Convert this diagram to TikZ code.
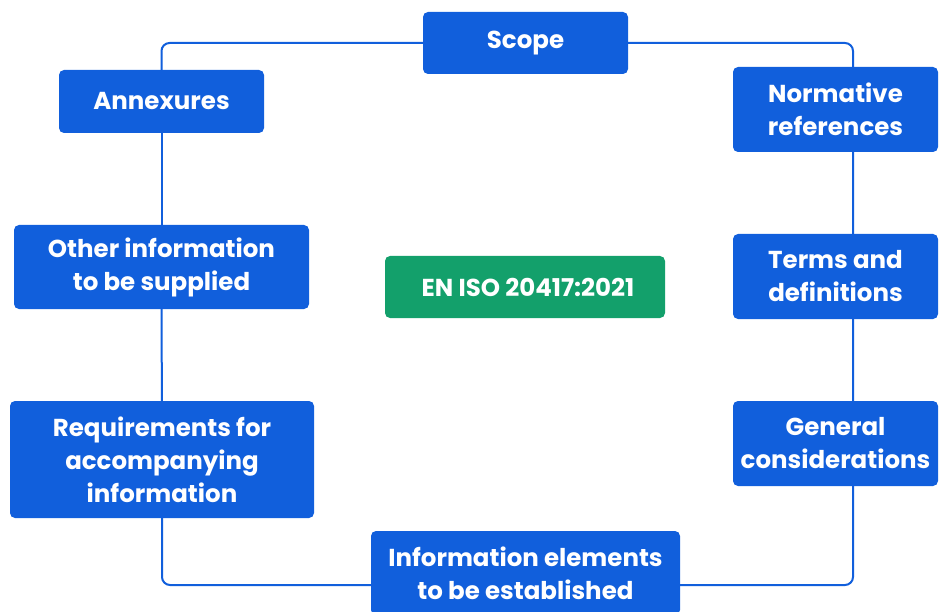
\documentclass[tikz,border=0pt]{standalone}
\usepackage{fontspec}
\setmainfont{Poppins}
\usetikzlibrary{backgrounds}
\definecolor{boxblue}{HTML}{115FDC}
\definecolor{boxgreen}{HTML}{13A06B}

\begin{document}
\begin{tikzpicture}[x=1pt,y=-1pt,line cap=round,line join=round,
  box/.style={fill=boxblue,rounded corners=5pt,text=white,align=center,inner sep=0pt,
    font=\fontsize{24.5}{33}\selectfont\bfseries},
  loopline/.style={draw=boxblue,line width=2pt,rounded corners=8pt}]
 	\useasboundingbox (0,0) rectangle (947,612);
 	\node[box,minimum width=205pt,minimum height=62pt] (scope) at (525.5,43) {Scope};
 	\node[box,minimum width=205pt,minimum height=63pt] (annex) at (161.5,101.5) {Annexures};
 	\node[box,minimum width=295pt,minimum height=84pt] (other) at (161.5,267) {Other information\\to be supplied};
 	\node[box,minimum width=304pt,minimum height=117pt] (req) at (162,459.5) {Requirements for\\accompanying\\information};
 	\node[box,minimum width=309pt,minimum height=84pt] (info) at (525.5,573) {Information elements\\to be established};
 	\node[box,minimum width=205pt,minimum height=85pt] (norm) at (835.5,109.5) {Normative\\references};
 	\node[box,minimum width=205pt,minimum height=85pt] (terms) at (835.5,276.5) {Terms and\\definitions};
 	\node[box,minimum width=205pt,minimum height=85pt] (gen) at (835.5,443.5) {General\\considerations};
 	\node[box,fill=boxgreen,minimum width=280pt,minimum height=62pt] (iso) at (525,287) {\hspace{6pt}EN ISO 20417:2021};
 	\coordinate (ne) at (853,43);
 	\coordinate (se) at (853,585);
 	\begin{scope}[on background layer]
 	\draw[loopline] (annex.north) |- (scope.west);
 	\draw[loopline] (scope.east) -- (ne) -- (se) -- (info.east |- se);
 	\draw[loopline] (info.west |- se) -| (req.south);
 	\draw[loopline] (req) -- (other);
 	\draw[loopline] (other) -- (annex);
 	\end{scope}
\end{tikzpicture}
\end{document}
